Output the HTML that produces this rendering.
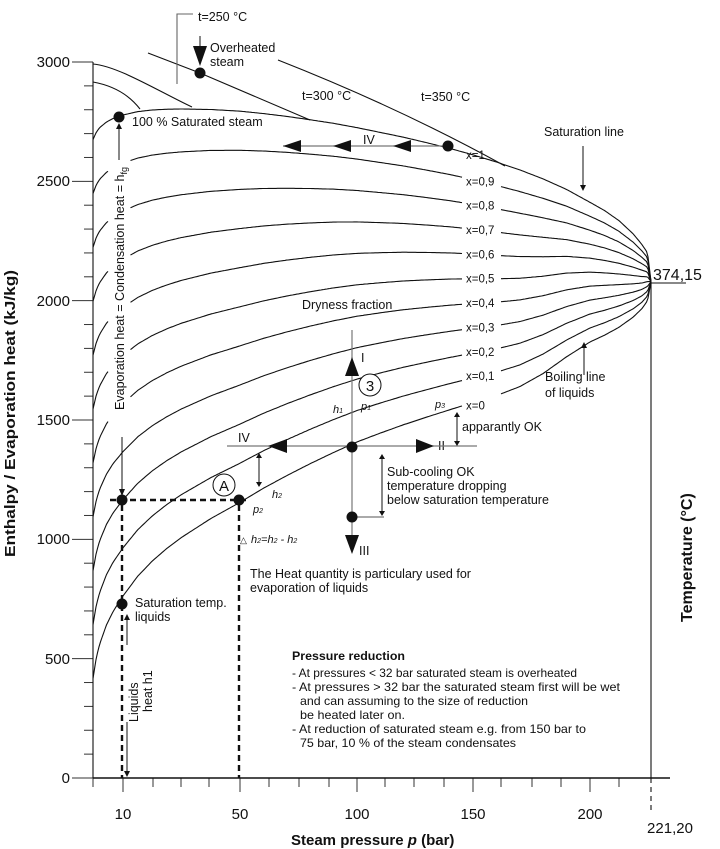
<!DOCTYPE html>
<html><head><meta charset="utf-8"><style>
html,body{margin:0;padding:0;background:#fff}
svg{display:block}
text{font-family:"Liberation Sans",Arial,sans-serif;fill:#111}
</style></head><body>
<svg id="s" width="720" height="849" viewBox="0 0 720 849" xmlns="http://www.w3.org/2000/svg">
<g id="curves" fill="none" stroke="#111" stroke-width="1.1"></g>
<g id="ticks" stroke="#333" stroke-width="1"></g>
<g fill="none" stroke="#111" stroke-width="1.1">
<line x1="93" y1="62" x2="93" y2="778"/>
<line x1="93" y1="778" x2="670" y2="778" stroke-width="1.4"/>
<line x1="651" y1="282" x2="651" y2="778"/>
<line x1="651" y1="778" x2="651" y2="812" stroke-dasharray="5,4"/>
<line x1="651" y1="283" x2="686" y2="283"/>
<path d="M93,64 C118,66 160,92 192,107"/>
<path d="M93,82 C115,86 130,96 140,109"/>
<path d="M148,53 L200,73 L310,120"/>
<path id="t350" d="M278,60 Q400,108 505,166"/>
<polyline points="193,14 177,14 177,84" stroke="#666"/>
</g>
<rect x="109" y="128" width="21" height="300" fill="#fff"/>
<g id="lab"></g>
<g font-size="15" text-anchor="end">
<text x="70" y="67">3000</text><text x="70" y="186">2500</text><text x="70" y="306">2000</text>
<text x="70" y="425">1500</text><text x="70" y="544">1000</text><text x="70" y="664">500</text><text x="70" y="783">0</text>
</g>
<g font-size="15" text-anchor="middle">
<text x="123" y="819">10</text><text x="240" y="819">50</text><text x="357" y="819">100</text>
<text x="473" y="819">150</text><text x="590" y="819">200</text><text x="670" y="833">221,20</text>
</g>
<text x="291" y="845" font-size="15" font-weight="bold">Steam pressure <tspan font-style="italic">p</tspan> (bar)</text>
<text transform="translate(15,557) rotate(-90)" font-size="15" font-weight="bold" textLength="287" lengthAdjust="spacingAndGlyphs">Enthalpy / Evaporation heat (kJ/kg)</text>
<text transform="translate(692,622) rotate(-90)" font-size="16" font-weight="bold">Temperature (°C)</text>
<text x="653" y="280" font-size="16">374,15</text>
<g font-size="12.5">
<text x="198" y="21">t=250 °C</text>
<text x="210" y="52">Overheated</text><text x="210" y="66">steam</text>
<text x="302" y="100">t=300 °C</text><text x="421" y="101">t=350 °C</text>
<text x="544" y="136">Saturation line</text>
<text x="132" y="126">100 % Saturated steam</text>
<text x="302" y="309">Dryness fraction</text>
<text x="363" y="144">IV</text>
<text x="238" y="442">IV</text><text x="438" y="450">II</text>
<text x="361" y="362">I</text><text x="359" y="555">III</text>
<text x="462" y="431">apparantly OK</text>
<text x="545" y="381">Boiling line</text><text x="545" y="397">of liquids</text>
<text x="387" y="476">Sub-cooling OK</text><text x="387" y="490">temperature dropping</text><text x="387" y="504">below saturation temperature</text>
<text x="250" y="578">The Heat quantity is particulary used for</text><text x="250" y="592">evaporation of liquids</text>
<text x="135" y="607">Saturation temp.</text><text x="135" y="621">liquids</text>
</g>
<g font-size="11" font-style="italic">
<text x="333" y="413">h<tspan font-size="7">1</tspan></text>
<text x="361" y="410">p<tspan font-size="7">1</tspan></text>
<text x="435" y="408">p<tspan font-size="7">3</tspan></text>
<text x="272" y="498">h<tspan font-size="7">2</tspan></text>
<text x="253" y="513">p<tspan font-size="7">2</tspan></text>
<text x="251" y="543">h<tspan font-size="7">2</tspan>=h<tspan font-size="7">2</tspan> - h<tspan font-size="7">2</tspan></text>
</g>
<text x="240" y="543" font-size="9">△</text>
<text transform="translate(124,410) rotate(-90)" font-size="12.5" textLength="243" lengthAdjust="spacingAndGlyphs">Evaporation heat = Condensation heat = h<tspan font-size="9" dy="3">fg</tspan></text>
<text transform="translate(138,722) rotate(-90)" font-size="12.5">Liquids</text>
<text transform="translate(152,712) rotate(-90)" font-size="12.5">heat h1</text>
<g font-size="12">
<text x="292" y="660" font-weight="bold" textLength="113" lengthAdjust="spacingAndGlyphs">Pressure reduction</text>
<text x="292" y="677" textLength="285" lengthAdjust="spacingAndGlyphs">- At pressures &lt; 32 bar saturated steam is overheated</text>
<text x="292" y="691" textLength="328" lengthAdjust="spacingAndGlyphs">- At pressures &gt; 32 bar the saturated steam first will be wet</text>
<text x="300" y="705" textLength="228" lengthAdjust="spacingAndGlyphs">and can assuming to the size of reduction</text>
<text x="300" y="719" textLength="105" lengthAdjust="spacingAndGlyphs">be heated later on.</text>
<text x="292" y="733" textLength="294" lengthAdjust="spacingAndGlyphs">- At reduction of saturated steam e.g. from 150 bar to</text>
<text x="300" y="747" textLength="216" lengthAdjust="spacingAndGlyphs">75 bar, 10 % of the steam condensates</text>
</g>
<g stroke="#777" stroke-width="1.2" fill="none">
<line x1="352" y1="330" x2="352" y2="540"/>
<line x1="227" y1="446" x2="477" y2="446"/>
<line x1="352" y1="517" x2="384" y2="517"/>
<line x1="447" y1="146" x2="283" y2="146"/>
</g>
<g stroke="#111" stroke-width="1" fill="none">
<line x1="259" y1="455" x2="259" y2="485"/>
<line x1="382" y1="456" x2="382" y2="514"/>
<line x1="457" y1="414" x2="457" y2="444"/>
<line x1="122" y1="437" x2="122" y2="493"/>
<line x1="119" y1="160" x2="119" y2="126"/>
<line x1="127" y1="645" x2="127" y2="617"/>
<line x1="127" y1="722" x2="127" y2="774"/>
<line x1="584" y1="375" x2="584" y2="345"/>
<line x1="583" y1="146" x2="583" y2="188"/>
<line x1="200" y1="36" x2="200" y2="50"/>
</g>
<g fill="#111">
<path d="M256,458 L262,458 L259,453Z M256,482 L262,482 L259,487Z"/>
<path d="M379,459 L385,459 L382,454Z M379,511 L385,511 L382,516Z"/>
<path d="M454,417 L460,417 L457,412Z M454,441 L460,441 L457,446Z"/>
<path d="M119,489 L125,489 L122,496Z"/>
<path d="M116,129 L122,129 L119,123Z"/>
<path d="M124,620 L130,620 L127,614Z M124,771 L130,771 L127,777Z"/>
<path d="M581,348 L587,348 L584,342Z"/>
<path d="M580,185 L586,185 L583,191Z"/>
<path d="M193,46 L207,46 L200,66Z"/>
<path d="M283,146 L301,140 L301,152Z M333,146 L351,140 L351,152Z M393,146 L411,140 L411,152Z"/>
<path d="M268,446 L287,439 L287,453Z"/>
<path d="M434,446 L416,439 L416,453Z"/>
<path d="M352,357 L345,376 L359,376Z"/>
<path d="M352,554 L345,535 L359,535Z"/>
<circle cx="200" cy="73" r="5.5"/><circle cx="119" cy="117" r="5.5"/>
<circle cx="448" cy="146" r="5.5"/><circle cx="352" cy="447" r="5.5"/>
<circle cx="352" cy="517" r="5.5"/><circle cx="122" cy="500" r="5.5"/>
<circle cx="239" cy="500" r="5.5"/><circle cx="122" cy="604" r="5.5"/>
</g>
<g fill="#fff" stroke="#111" stroke-width="1">
<circle cx="370" cy="385" r="11"/><circle cx="224" cy="485" r="11"/>
</g>
<text x="370" y="391" font-size="15" text-anchor="middle">3</text>
<text x="224" y="491" font-size="15" text-anchor="middle">A</text>
<g stroke="#111" stroke-width="2.4" stroke-dasharray="6,4" fill="none">
<line x1="110" y1="500" x2="250" y2="500"/>
<line x1="122" y1="505" x2="122" y2="778"/>
<line x1="239" y1="505" x2="239" y2="778"/>
</g>
</svg>
<script>
(function(){
var T=[[1,417,2675],[2,505,2706],[3,561,2725],[5,640,2748],[7,697,2763],[10,763,2778],[15,845,2792],[20,909,2799],[25,962,2802],[30,1008,2803],[40,1087,2801],[50,1155,2794],[60,1214,2784],[70,1267,2772],[80,1317,2758],[90,1364,2743],[100,1408,2725],[110,1445,2705],[120,1480,2685],[130,1512,2662],[140,1543,2638],[150,1573,2611],[160,1602,2581],[170,1640,2548],[180,1695,2510],[190,1765,2466],[200,1827,2412],[205,1855,2378],[210,1888,2336],[215,1931,2280],[218,1966,2236],[220,2000,2200],[221.2,2080,2080]];
var PX=[[1,93],[10,123],[50,240],[100,357],[150,473],[200,590],[221.2,651]];
function px2p(x){for(var i=0;i<PX.length-1;i++){if(x<=PX[i+1][1]){var a=PX[i],b=PX[i+1];return a[0]+(x-a[1])/(b[1]-a[1])*(b[0]-a[0]);}}return 221.2;}
function tab(p){for(var i=0;i<T.length-1;i++){if(p<=T[i+1][0]){var a=T[i],b=T[i+1],t=(p-a[0])/(b[0]-a[0]);return [a[1]+t*(b[1]-a[1]),a[2]+t*(b[2]-a[2])];}}return [2080,2080];}
function Y(h){return 778-h*716/3000;}
var NS="http://www.w3.org/2000/svg",g=document.getElementById('curves'),lab=document.getElementById('lab');
var labY={};
for(var q=0;q<=10;q++){
 var xq=q/10,d="",pen=false;
 for(var x=93;x<=651;x+=1.5){
  var p=px2p(x),r=tab(p),h=r[0]+xq*(r[1]-r[0]),y=Y(h);
  var gap=(x>109&&x<130&&y>128&&y<428)||(q<10&&x>463&&x<500);
  if(x>=480&&x<481.5)labY[q]=y;
  if(gap){pen=false;continue;}
  d+=(pen?"L":"M")+x.toFixed(1)+","+y.toFixed(1);pen=true;
 }
 d+="L651,"+Y(2080).toFixed(1);
 var e=document.createElementNS(NS,'path');e.setAttribute('d',d);g.appendChild(e);
 var t=document.createElementNS(NS,'text');
 t.setAttribute('x',466);t.setAttribute('font-size','11.5');
 var ly=labY[q]+(q==10?2:(q==0?9:4));
 t.setAttribute('y',ly.toFixed(1));
 t.textContent=(q==10?"x=1":(q==0?"x=0":"x=0,"+q));
 lab.appendChild(t);
}
var tk=document.getElementById('ticks');
function ln(x1,y1,x2,y2){var l=document.createElementNS(NS,'line');l.setAttribute('x1',x1);l.setAttribute('y1',y1);l.setAttribute('x2',x2);l.setAttribute('y2',y2);tk.appendChild(l);}
for(var k=0;k<=30;k++){var yy=778-k*716/30;ln(k%5==0?72:84,yy,93,yy);}
var xs=[93,123,153,181,209,240,269,299,329,357,385,414,444,473,501,532,561,590,619];
var maj=[123,240,357,473,590];
xs.forEach(function(x){ln(x,778,x,maj.indexOf(x)>=0?792:787);});
})();
</script>
</body></html>
